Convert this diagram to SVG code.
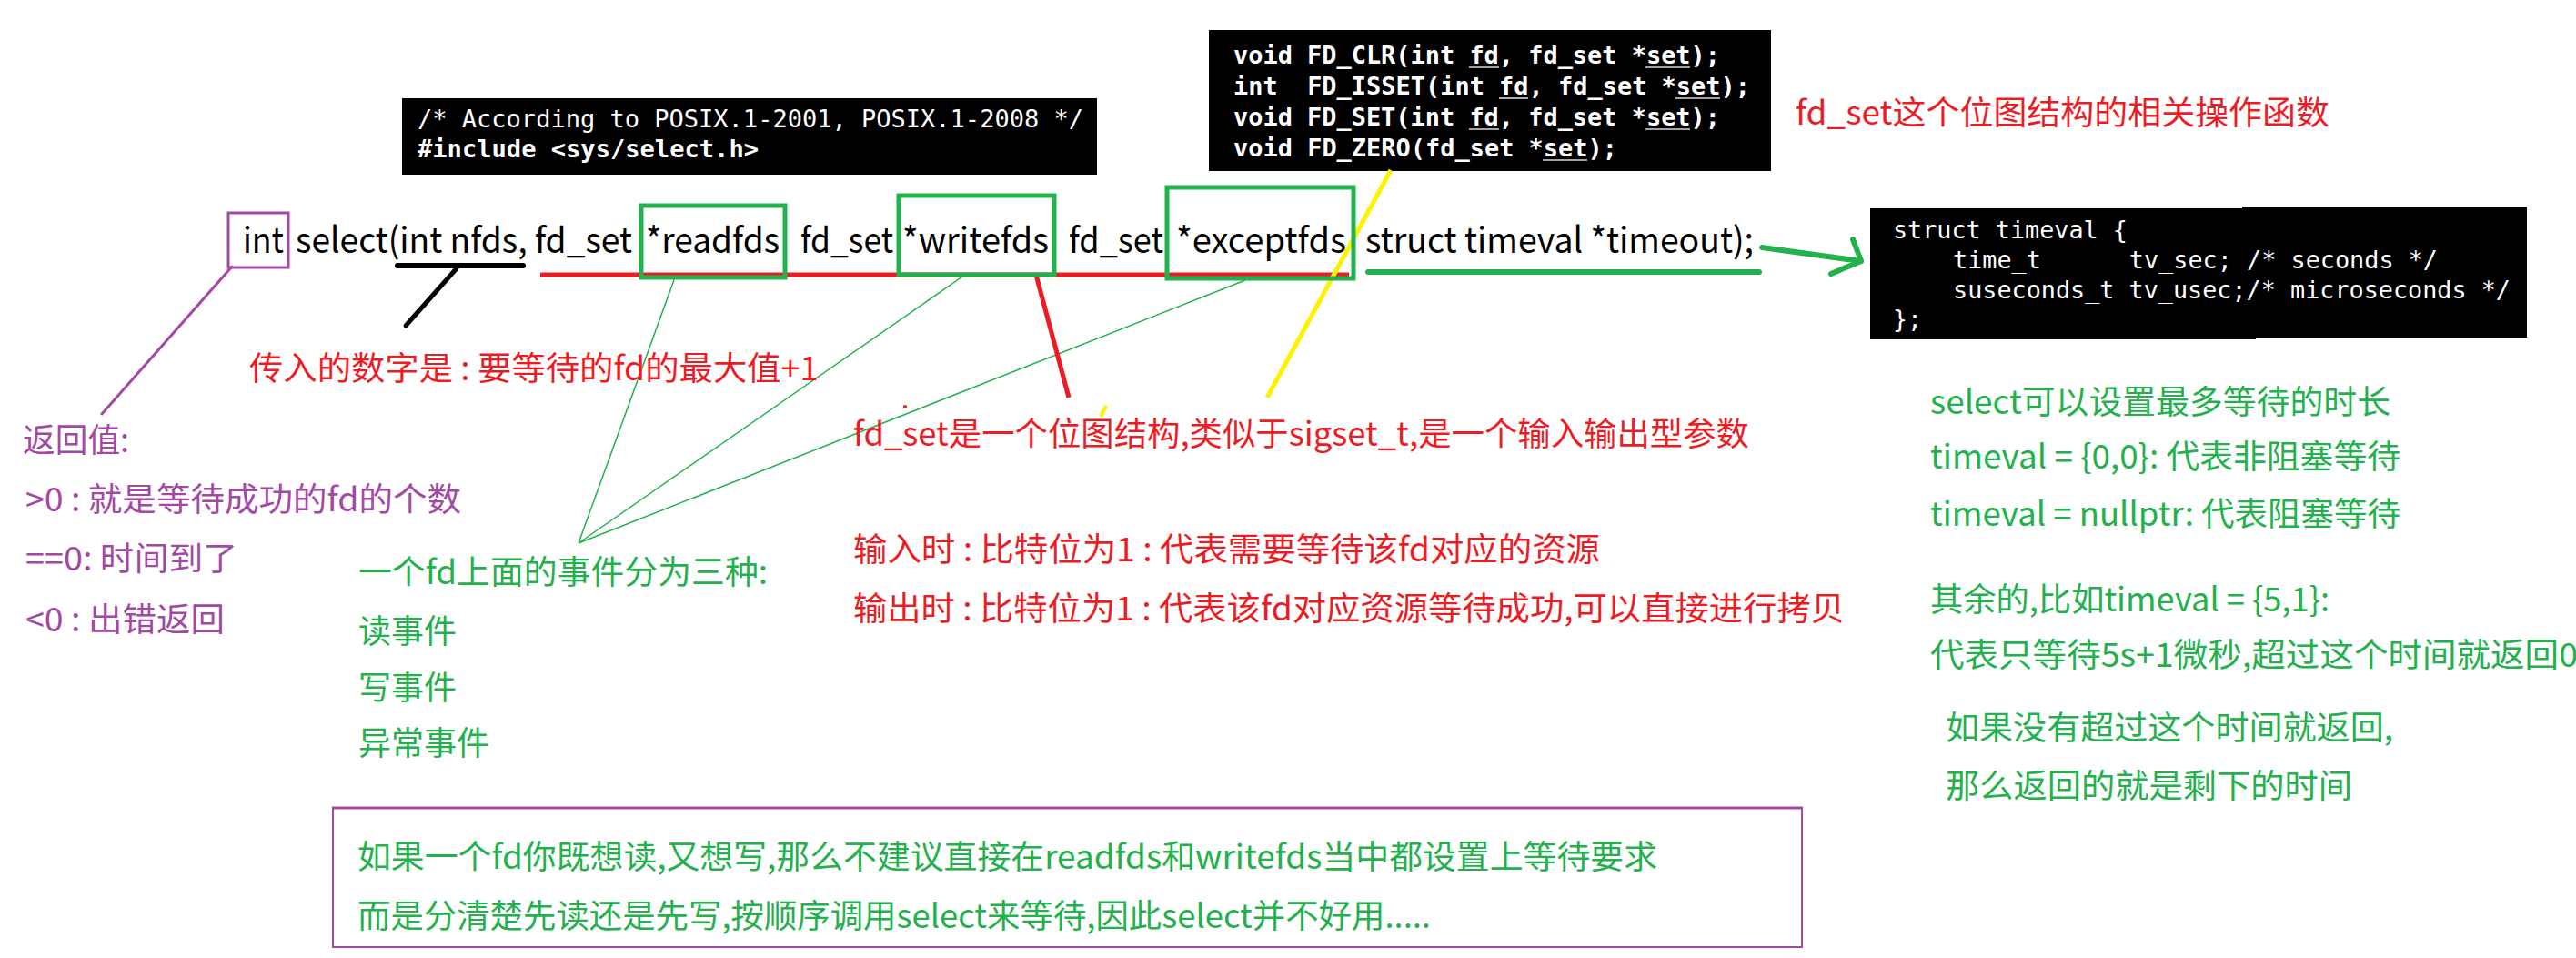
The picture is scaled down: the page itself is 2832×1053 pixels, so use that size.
<svg xmlns="http://www.w3.org/2000/svg" width="2832" height="1053" viewBox="0 0 2832 1053">
<style>
.cjk{font-family:"Microsoft YaHei","Noto Sans CJK SC","Noto Sans",sans-serif;font-size:36px}
.red{fill:#ed1c24}.grn{fill:#22b14c}.pur{fill:#a349a4}
.code{font-family:"DejaVu Sans Mono","Liberation Mono",monospace;font-size:27px;fill:#ffffff;white-space:pre}
.b{font-weight:bold}
.main{font-family:"Microsoft YaHei","Noto Sans CJK SC","Noto Sans",sans-serif;font-size:39px;fill:#000}
.gbox{fill:none;stroke:#22b14c;stroke-width:5}
.ul{stroke:#d8d8d8;stroke-width:1.6}
</style>
<rect width="2832" height="1053" fill="#ffffff"/>

<g id="include-box">
<rect x="442" y="108" width="764" height="84" fill="#000"/>
<text class="code" x="459" y="140" textLength="732" lengthAdjust="spacingAndGlyphs" fill="#eeeeee">/* According to POSIX.1-2001, POSIX.1-2008 */</text>
<text class="code b" x="459" y="173" textLength="375" lengthAdjust="spacingAndGlyphs">#include &lt;sys/select.h&gt;</text>
</g>

<g id="fd-macros-box">
<rect x="1329" y="33" width="618" height="155" fill="#000"/>
<text class="code b" x="1356" y="70" textLength="535" lengthAdjust="spacingAndGlyphs">void FD_CLR(int fd, fd_set *set);</text>
<text class="code b" x="1356" y="104" textLength="568" lengthAdjust="spacingAndGlyphs">int  FD_ISSET(int fd, fd_set *set);</text>
<text class="code b" x="1356" y="138" textLength="535" lengthAdjust="spacingAndGlyphs">void FD_SET(int fd, fd_set *set);</text>
<text class="code b" x="1356" y="172" textLength="422" lengthAdjust="spacingAndGlyphs">void FD_ZERO(fd_set *set);</text>
<line class="ul" x1="1615" y1="74" x2="1648" y2="74"/>
<line class="ul" x1="1809" y1="74" x2="1858" y2="74"/>
<line class="ul" x1="1648" y1="108" x2="1680" y2="108"/>
<line class="ul" x1="1842" y1="108" x2="1891" y2="108"/>
<line class="ul" x1="1615" y1="142" x2="1648" y2="142"/>
<line class="ul" x1="1809" y1="142" x2="1858" y2="142"/>
<line class="ul" x1="1696" y1="176" x2="1745" y2="176"/>
</g>

<g id="fd-macros-label">
<text class="cjk red" x="1974" y="137" textLength="587" lengthAdjust="spacingAndGlyphs">fd_set这个位图结构的相关操作函数</text>
</g>

<g id="timeval-box">
<polygon points="2056,229 2465,229 2465,227 2778,227 2778,371 2480,371 2480,373 2056,373" fill="#000"/>
<text class="code" x="2081" y="262" textLength="258" lengthAdjust="spacingAndGlyphs">struct timeval {</text>
<text class="code" x="2147" y="295" textLength="533" lengthAdjust="spacingAndGlyphs">time_t      tv_sec; /* seconds */</text>
<text class="code" x="2147" y="328" textLength="613" lengthAdjust="spacingAndGlyphs">suseconds_t tv_usec;/* microseconds */</text>
<text class="code" x="2081" y="360" textLength="32" lengthAdjust="spacingAndGlyphs">};</text>
</g>

<g id="select-signature">
<text class="main" x="267" y="278" textLength="45" lengthAdjust="spacingAndGlyphs">int</text>
<text class="main" x="325" y="278" textLength="370" lengthAdjust="spacingAndGlyphs">select(int nfds, fd_set</text>
<text class="main" x="710" y="278" textLength="147" lengthAdjust="spacingAndGlyphs">*readfds</text>
<text class="main" x="880" y="278" textLength="102" lengthAdjust="spacingAndGlyphs">fd_set</text>
<text class="main" x="992" y="278" textLength="161" lengthAdjust="spacingAndGlyphs">*writefds</text>
<text class="main" x="1175" y="278" textLength="104" lengthAdjust="spacingAndGlyphs">fd_set</text>
<text class="main" x="1293" y="278" textLength="187" lengthAdjust="spacingAndGlyphs">*exceptfds</text>
<text class="main" x="1501" y="278" textLength="427" lengthAdjust="spacingAndGlyphs">struct timeval *timeout);</text>
</g>

<g id="connectors">
<line x1="594" y1="302" x2="1483" y2="302" stroke="#ed1c24" stroke-width="5"/>
<line x1="437" y1="292" x2="575" y2="292" stroke="#000" stroke-width="6" stroke-linecap="round"/>
<line x1="502" y1="295" x2="446" y2="358" stroke="#000" stroke-width="5" stroke-linecap="round"/>
<line x1="255" y1="293" x2="112" y2="455" stroke="#a349a4" stroke-width="3" stroke-linecap="round"/>
<line x1="636" y1="597" x2="742" y2="305" stroke="#22b14c" stroke-width="1.5"/>
<line x1="636" y1="597" x2="1061" y2="302" stroke="#22b14c" stroke-width="1.5"/>
<line x1="636" y1="597" x2="1369" y2="308" stroke="#22b14c" stroke-width="1.5"/>
<line x1="1139" y1="302" x2="1175" y2="437" stroke="#ed1c24" stroke-width="5"/>
<line x1="1529" y1="187" x2="1393" y2="437" stroke="#fff200" stroke-width="5"/>
<line x1="1210" y1="458" x2="1216" y2="446" stroke="#fff200" stroke-width="4"/>
<circle cx="995" cy="447" r="2" fill="#ed1c24"/>
<line x1="1504" y1="299" x2="1934" y2="299" stroke="#22b14c" stroke-width="6" stroke-linecap="round"/>
<polyline points="1937,272 2046,287" fill="none" stroke="#22b14c" stroke-width="6" stroke-linecap="round"/>
<polyline points="2037,263 2046,287 2013,301" fill="none" stroke="#22b14c" stroke-width="6" stroke-linecap="round" stroke-linejoin="round"/>
<rect x="251" y="234" width="66" height="60" fill="none" stroke="#a349a4" stroke-width="3"/>
<rect class="gbox" x="705" y="226" width="158" height="79"/>
<rect class="gbox" x="988" y="215" width="171" height="87"/>
<rect class="gbox" x="1283" y="206" width="205" height="100"/>
</g>

<g id="nfds-note">
<text class="cjk red" x="274" y="418" textLength="626" lengthAdjust="spacingAndGlyphs">传入的数字是 : 要等待的fd的最大值+1</text>
</g>

<g id="return-note">
<text class="cjk pur" x="25" y="497" textLength="117" lengthAdjust="spacingAndGlyphs">返回值:</text>
<text class="cjk pur" x="28" y="562" textLength="479" lengthAdjust="spacingAndGlyphs">&gt;0 : 就是等待成功的fd的个数</text>
<text class="cjk pur" x="28" y="627" textLength="233" lengthAdjust="spacingAndGlyphs">==0: 时间到了</text>
<text class="cjk pur" x="28" y="694" textLength="219" lengthAdjust="spacingAndGlyphs">&lt;0 : 出错返回</text>
</g>

<g id="events-note">
<text class="cjk grn" x="394" y="642" textLength="450" lengthAdjust="spacingAndGlyphs">一个fd上面的事件分为三种:</text>
<text class="cjk grn" x="394" y="707">读事件</text>
<text class="cjk grn" x="394" y="769">写事件</text>
<text class="cjk grn" x="394" y="830">异常事件</text>
</g>

<g id="fdset-note">
<text class="cjk red" x="938" y="490" textLength="985" lengthAdjust="spacingAndGlyphs">fd_set是一个位图结构,类似于sigset_t,是一个输入输出型参数</text>
<text class="cjk red" x="938" y="617" textLength="821" lengthAdjust="spacingAndGlyphs">输入时 : 比特位为1 : 代表需要等待该fd对应的资源</text>
<text class="cjk red" x="938" y="682" textLength="1090" lengthAdjust="spacingAndGlyphs">输出时 : 比特位为1 : 代表该fd对应资源等待成功,可以直接进行拷贝</text>
</g>

<g id="timeout-note">
<text class="cjk grn" x="2122" y="455" textLength="506" lengthAdjust="spacingAndGlyphs">select可以设置最多等待的时长</text>
<text class="cjk grn" x="2122" y="515" textLength="517" lengthAdjust="spacingAndGlyphs">timeval = {0,0}: 代表非阻塞等待</text>
<text class="cjk grn" x="2122" y="578" textLength="517" lengthAdjust="spacingAndGlyphs">timeval = nullptr: 代表阻塞等待</text>
<text class="cjk grn" x="2122" y="672" textLength="439" lengthAdjust="spacingAndGlyphs">其余的,比如timeval = {5,1}:</text>
<text class="cjk grn" x="2122" y="733" textLength="712" lengthAdjust="spacingAndGlyphs">代表只等待5s+1微秒,超过这个时间就返回0</text>
<text class="cjk grn" x="2139" y="813" textLength="492" lengthAdjust="spacingAndGlyphs">如果没有超过这个时间就返回,</text>
<text class="cjk grn" x="2139" y="877" textLength="447" lengthAdjust="spacingAndGlyphs">那么返回的就是剩下的时间</text>
</g>

<g id="advice-box">
<rect x="366" y="888" width="1615" height="153" fill="none" stroke="#a349a4" stroke-width="2"/>
<line x1="365" y1="888" x2="1982" y2="888" stroke="#a349a4" stroke-width="3"/>
<text class="cjk grn" x="393" y="955" textLength="1429" lengthAdjust="spacingAndGlyphs">如果一个fd你既想读,又想写,那么不建议直接在readfds和writefds当中都设置上等待要求</text>
<text class="cjk grn" x="393" y="1020" textLength="1180" lengthAdjust="spacingAndGlyphs">而是分清楚先读还是先写,按顺序调用select来等待,因此select并不好用.....</text>
</g>
</svg>
